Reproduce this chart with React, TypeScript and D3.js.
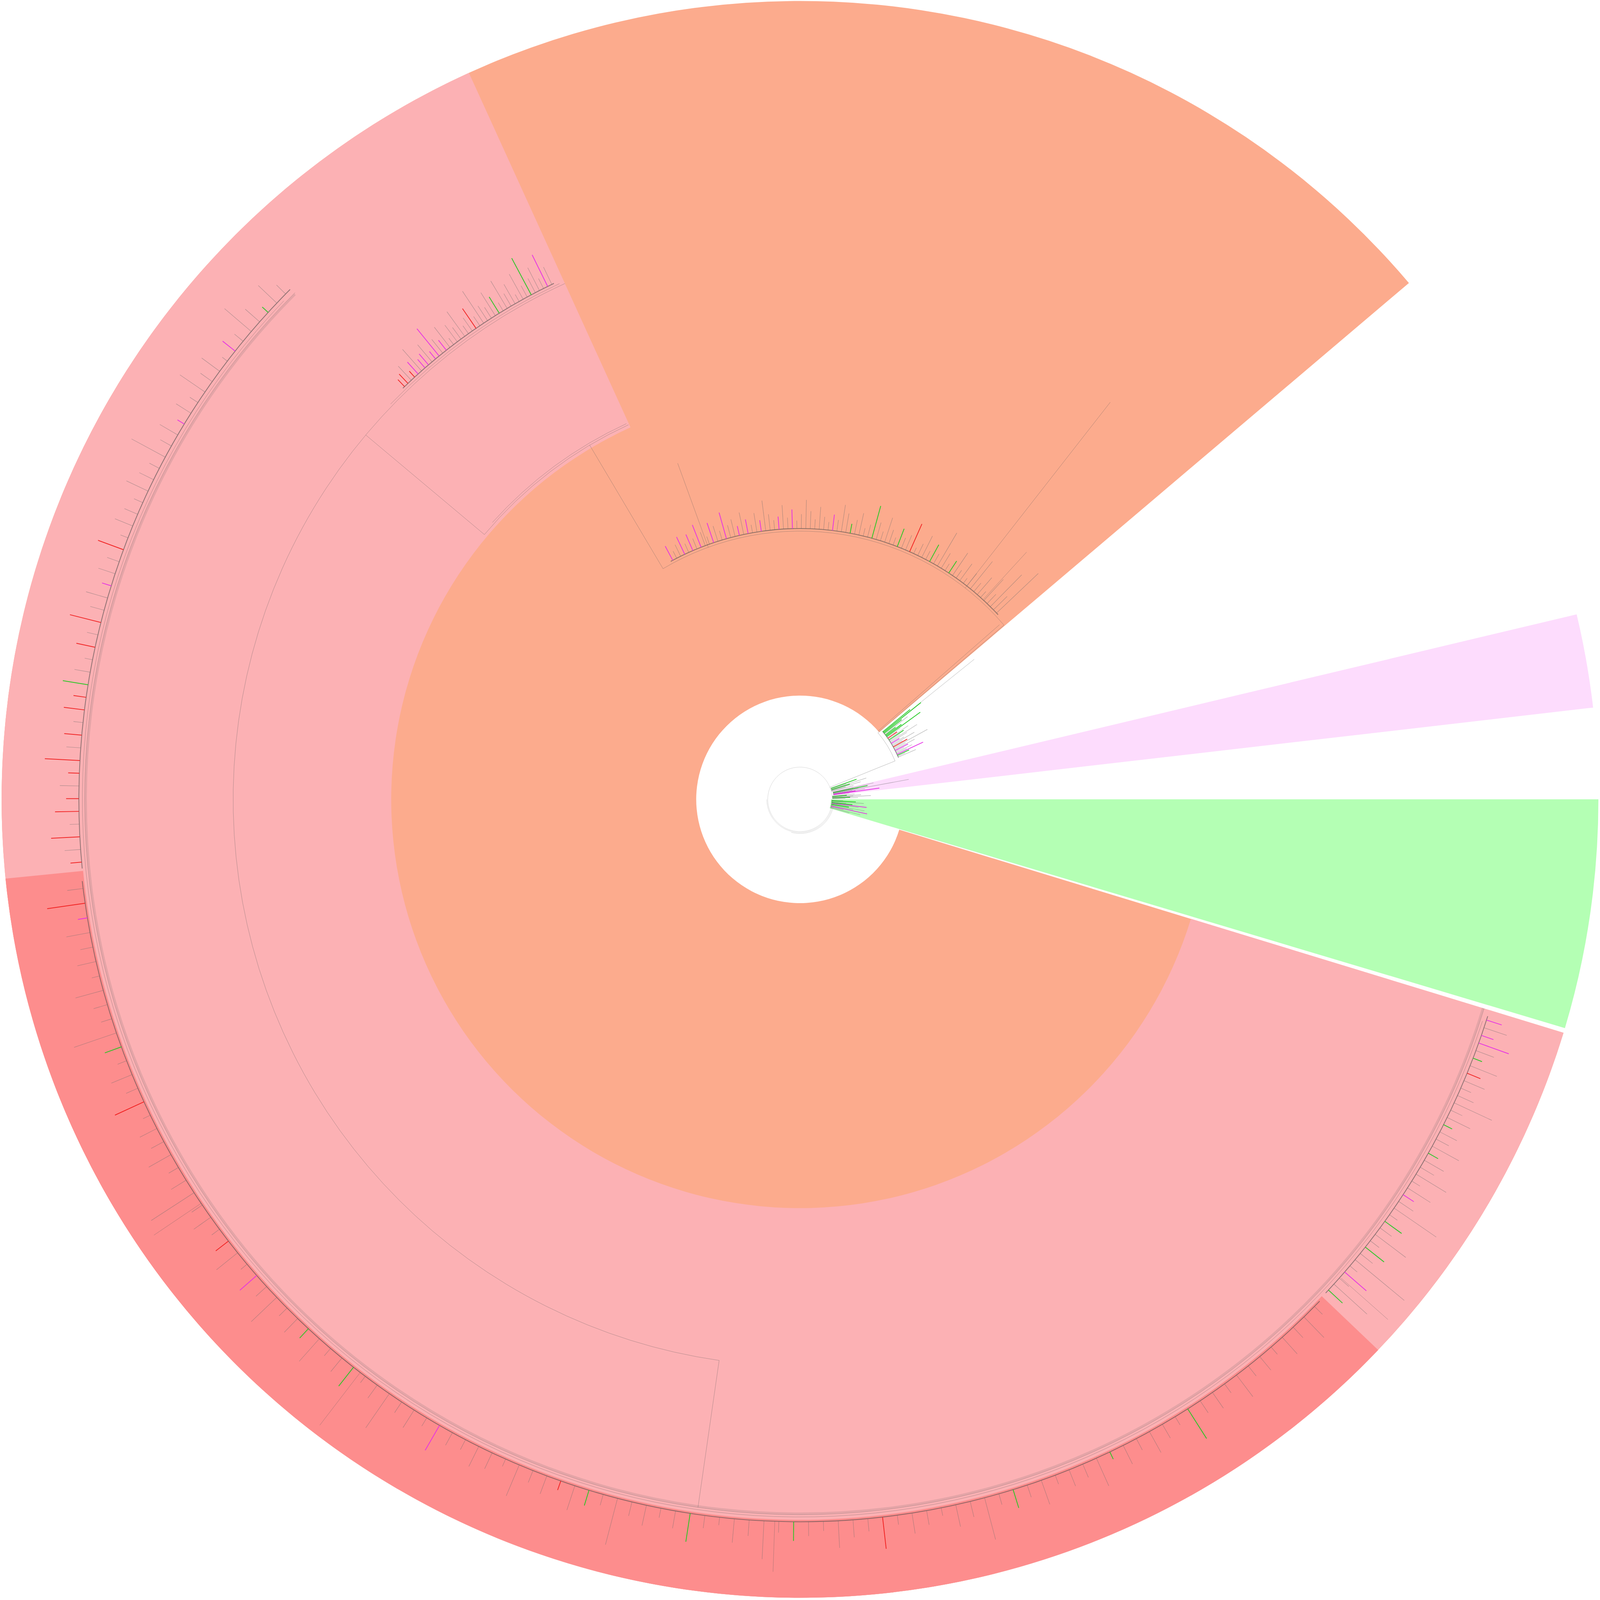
import React, { useMemo } from "react";
import * as d3 from "d3";

const WIDTH = 5000;
const HEIGHT = 5004;
const CX = 2500;
const CY = 2500;
const OUTER = 2497;

// clade backgrounds: start depth and angular range (degrees, counter-clockwise from 3 o'clock)
const cladeNames = ["Clade I", "Clade I.a", "Clade I.a.1", "Clade II", "Clade III"];
const cladeDepth = [325, 1280, 2256, 97, 107];
const cladeFrom = [40.3, 114.5, 185.7, -16.65, 6.6];
const cladeTo = [343.0, 343.0, 316.4, 0.0, 13.4];
const cladeColors = ["#fcab8d", "#fcb1b4", "#fd8d8d", "#b4ffb4", "#fddcfd"];

// backbone arcs of the tree: depth, from angle, to angle
const arcDepth = [101, 104, 107, 321, 840, 1290, 1296, 1775, 1782, 2240, 2247];
const arcFrom = [2, 180, 255, 22, 40.5, 114.6, 114.8, 114.5, 115, 134.9, 136];
const arcTo = [358, 352, 348, 40.5, 120.7, 140, 138, 261.8, 136, 343, 342];

// radial stems: angle, from depth, to depth
const stemAngle = [22, 40.5, 120.7, 140, 261.8, 41.2];
const stemFrom = [101, 321, 840, 1290, 1775, 325];
const stemTo = [321, 840, 1290, 1775, 2240, 830];

// leaf fans: angular range, base depth, tip lengths, tip colours (g grey, e green, m magenta, r red)
const fanFrom = [-16, 0.8, 7.2, 14, 23, 43, 115.5, 135, 186.5, 316.8];
const fanTo = [-1, 6, 13, 20, 39.5, 118.5, 134, 185.5, 316, 342.5];
const fanBase = [100, 102, 106, 103, 335, 848, 1790, 2258, 2262, 2258];
const fanLengths: number[][] = [
  [60, 95, 40, 115, 70, 105, 55, 85, 110, 65, 45, 100, 75, 35],
  [40, 80, 55, 120, 65, 90, 45, 70],
  [50, 145, 70, 100, 60, 240, 80, 110, 65, 130],
  [70, 45, 95, 60, 115, 50, 85],
  [60, 25, 40, 90, 35, 55, 30, 45, 70, 40, 120, 50, 35, 80, 45, 30, 60, 100, 40, 55,
    75, 35, 50, 130, 60, 40, 90, 70, 150, 110],
  [180, 60, 140, 40, 90, 25, 70, 35, 110, 50, 20, 65, 30, 85, 45, 25, 55, 120, 35, 60,
    30, 75, 40, 20, 95, 50, 35, 60, 25, 45, 80, 30, 55, 105, 40, 25, 70, 45, 30, 60,
    85, 35, 50, 25, 40, 70, 30, 55, 90, 45, 25, 60, 35, 75, 40, 30, 50, 95, 35, 60,
    25, 45, 70, 30, 55, 40, 85, 30, 50, 65, 25, 45, 75, 35, 55, 30, 60, 40, 25, 50],
  [60, 110, 35, 80, 50, 130, 40, 90, 25, 70, 45, 100, 30, 60, 85, 40, 55, 120, 35, 75,
    50, 30, 95, 45, 65, 25, 80, 40, 55, 110, 30, 70, 45, 35, 90, 50, 25, 60, 40, 30],
  [40, 80, 25, 60, 110, 35, 50, 20, 70, 45, 95, 30, 55, 25, 65, 40, 120, 35, 50, 75,
    30, 45, 60, 25, 85, 40, 55, 30, 70, 45, 100, 35, 60, 25, 50, 80, 40, 65, 30, 55,
    45, 110, 35, 60, 40, 75, 30, 90, 50, 35],
  [50, 120, 30, 75, 40, 60, 25, 90, 45, 35, 140, 55, 30, 70, 40, 100, 25, 60, 45, 80,
    35, 55, 160, 40, 65, 30, 50, 85, 25, 70, 45, 110, 35, 60, 40, 95, 30, 55, 75, 25,
    50, 130, 40, 65, 30, 90, 45, 35, 70, 55, 25, 105, 40, 60, 30, 80, 50, 35, 150, 45,
    65, 30, 55, 90, 40, 25, 75, 50, 120, 35, 60, 45, 30, 85, 55, 40, 100, 30, 65, 45,
    25, 70, 50, 135, 35, 60, 40, 80, 30, 55, 45, 95, 25, 65, 40, 75, 50, 30, 110, 45,
    60, 35, 85, 40, 55, 30, 70, 45, 90, 35],
  [60, 140, 40, 90, 30, 200, 50, 75, 35, 120, 45, 65, 30, 160, 55, 40, 85, 30, 110, 50,
    70, 35, 95, 45, 60, 30, 80, 40, 130, 55, 35, 70, 45, 90, 30, 60, 100, 40, 75, 50],
];
const fanColours = [
  "gggmggegmeggeg",
  "ggegggeg",
  "gmmggggegg",
  "gggegge",
  "ggemgggmgggrgggmgggegrgeeegeee",
  "gggggggggg" + "ggggegggge" + "ggggrggegg" + "gggeggggeg" + "ggmggggggg" + "gmggmgggmg" + "gmgmggmggm" + "ggmgmgmggm",
  "gmgggegggg" + "gggegggggr" + "gggggggmgm" + "mgmmgmrgrr",
  "ggegggmggg" + "gggmgggggg" + "ggggrggmgg" + "rgrggerrgr" + "grrgrrgrgr",
  "grmggggggg" + "gegggrgggg" + "ggggggrggm" + "ggggegggeg" + "gggggmgggg" + "ggggrgeggg" +
    "gggegggggg" + "egggggrggg" + "gggggegggg" + "ggegggggeg" + "gggggggggg",
  "eggmgggegg" + "gegggmgggg" + "gegggegggg" + "ggrgegmmgm",
];

// a few long single branches: angle, base depth, tip depth
const longAngle = [52, 110, 38.8, 47.5, 318.5, 232.5, 214, 268];
const longBase = [840, 840, 335, 850, 2262, 2262, 2262, 2262];
const longTip = [1578, 1120, 700, 1050, 2458, 2470, 2440, 2420];

const leafColour: Record<string, string> = {
  g: "#6e6e6e",
  e: "#1ec81e",
  m: "#e62ee6",
  r: "#f01e1e",
};

export default function App() {
  const radius = d3.scaleLinear().domain([0, 2500]).range([0, OUTER]);
  // degrees counter-clockwise from 3 o'clock -> d3 radians clockwise from 12 o'clock
  const angle = d3.scaleLinear().domain([0, 360]).range([Math.PI / 2, Math.PI / 2 - 2 * Math.PI]);

  const wedges = useMemo(() => {
    const arc = d3.arc<any>();
    return cladeNames.map((name, i) => ({
      name,
      color: cladeColors[i],
      d:
        arc({
          innerRadius: radius(cladeDepth[i]),
          outerRadius: OUTER,
          startAngle: angle(cladeTo[i]),
          endAngle: angle(cladeFrom[i]),
        }) || "",
    }));
  }, []);

  const arcPath = (depth: number, from: number, to: number) => {
    const p = d3.path();
    const r = radius(depth);
    const [x0, y0] = d3.pointRadial(angle(from), r);
    p.moveTo(x0, y0);
    p.arc(0, 0, r, angle(from) - Math.PI / 2, angle(to) - Math.PI / 2, true);
    return p.toString();
  };

  const radialPath = (a: number, d0: number, d1: number) => {
    const p = d3.path();
    const [x0, y0] = d3.pointRadial(angle(a), radius(d0));
    const [x1, y1] = d3.pointRadial(angle(a), radius(d1));
    p.moveTo(x0, y0);
    p.lineTo(x1, y1);
    return p.toString();
  };

  const leaves = useMemo(() => {
    const out: { d: string; c: string; k: string }[] = [];
    fanLengths.forEach((lens, f) => {
      const step = (fanTo[f] - fanFrom[f]) / lens.length;
      lens.forEach((len, i) => {
        const a = fanFrom[f] + (i + 0.5) * step;
        const k = fanColours[f][i] || "g";
        out.push({ d: radialPath(a, fanBase[f], fanBase[f] + len), c: leafColour[k], k });
      });
    });
    return out;
  }, []);

  return (
    <svg
      viewBox={`0 0 ${WIDTH} ${HEIGHT}`}
      preserveAspectRatio="xMidYMid meet"
      style={{ position: "fixed", left: 0, top: 0, width: "100vw", height: "100vh", background: "#fff", display: "block" }}
    >
      <g transform={`translate(${CX},${CY})`}>
        {wedges.map((w) => (
          <path key={w.name} d={w.d} fill={w.color} />
        ))}

        {/* pale band of nested arcs along the outer backbone */}
        <path d={arcPath(2236, 135, 343)} fill="none" stroke="#9a7f80" strokeOpacity={0.25} strokeWidth={6} />

        <g fill="none" stroke="#5a5a5a" strokeOpacity={0.45} strokeWidth={1.2}>
          {arcDepth.map((d, i) => (
            <path
              key={`arc-${i}`}
              d={arcPath(d, arcFrom[i], arcTo[i])}
              strokeOpacity={d < 200 ? 0.25 : 0.45}
            />
          ))}
          {stemAngle.map((a, i) => (
            <path key={`stem-${i}`} d={radialPath(a, stemFrom[i], stemTo[i])} />
          ))}
          {longAngle.map((a, i) => (
            <path key={`long-${i}`} d={radialPath(a, longBase[i], longTip[i])} />
          ))}
        </g>

        {/* dense base of each leaf fan */}
        <g fill="none" stroke="#4a4a4a" strokeOpacity={0.6}>
          {fanBase.map((b, f) => (
            <path
              key={`base-${f}`}
              d={arcPath(b, fanFrom[f], fanTo[f])}
              strokeWidth={b < 200 ? 1.2 : 2.5}
            />
          ))}
        </g>

        <g fill="none">
          {leaves.map((l, i) => (
            <path
              key={`leaf-${i}`}
              d={l.d}
              stroke={l.c}
              strokeOpacity={l.k === "g" ? 0.55 : 0.95}
              strokeWidth={l.k === "g" ? 1.3 : 2.4}
            />
          ))}
        </g>
      </g>
    </svg>
  );
}
